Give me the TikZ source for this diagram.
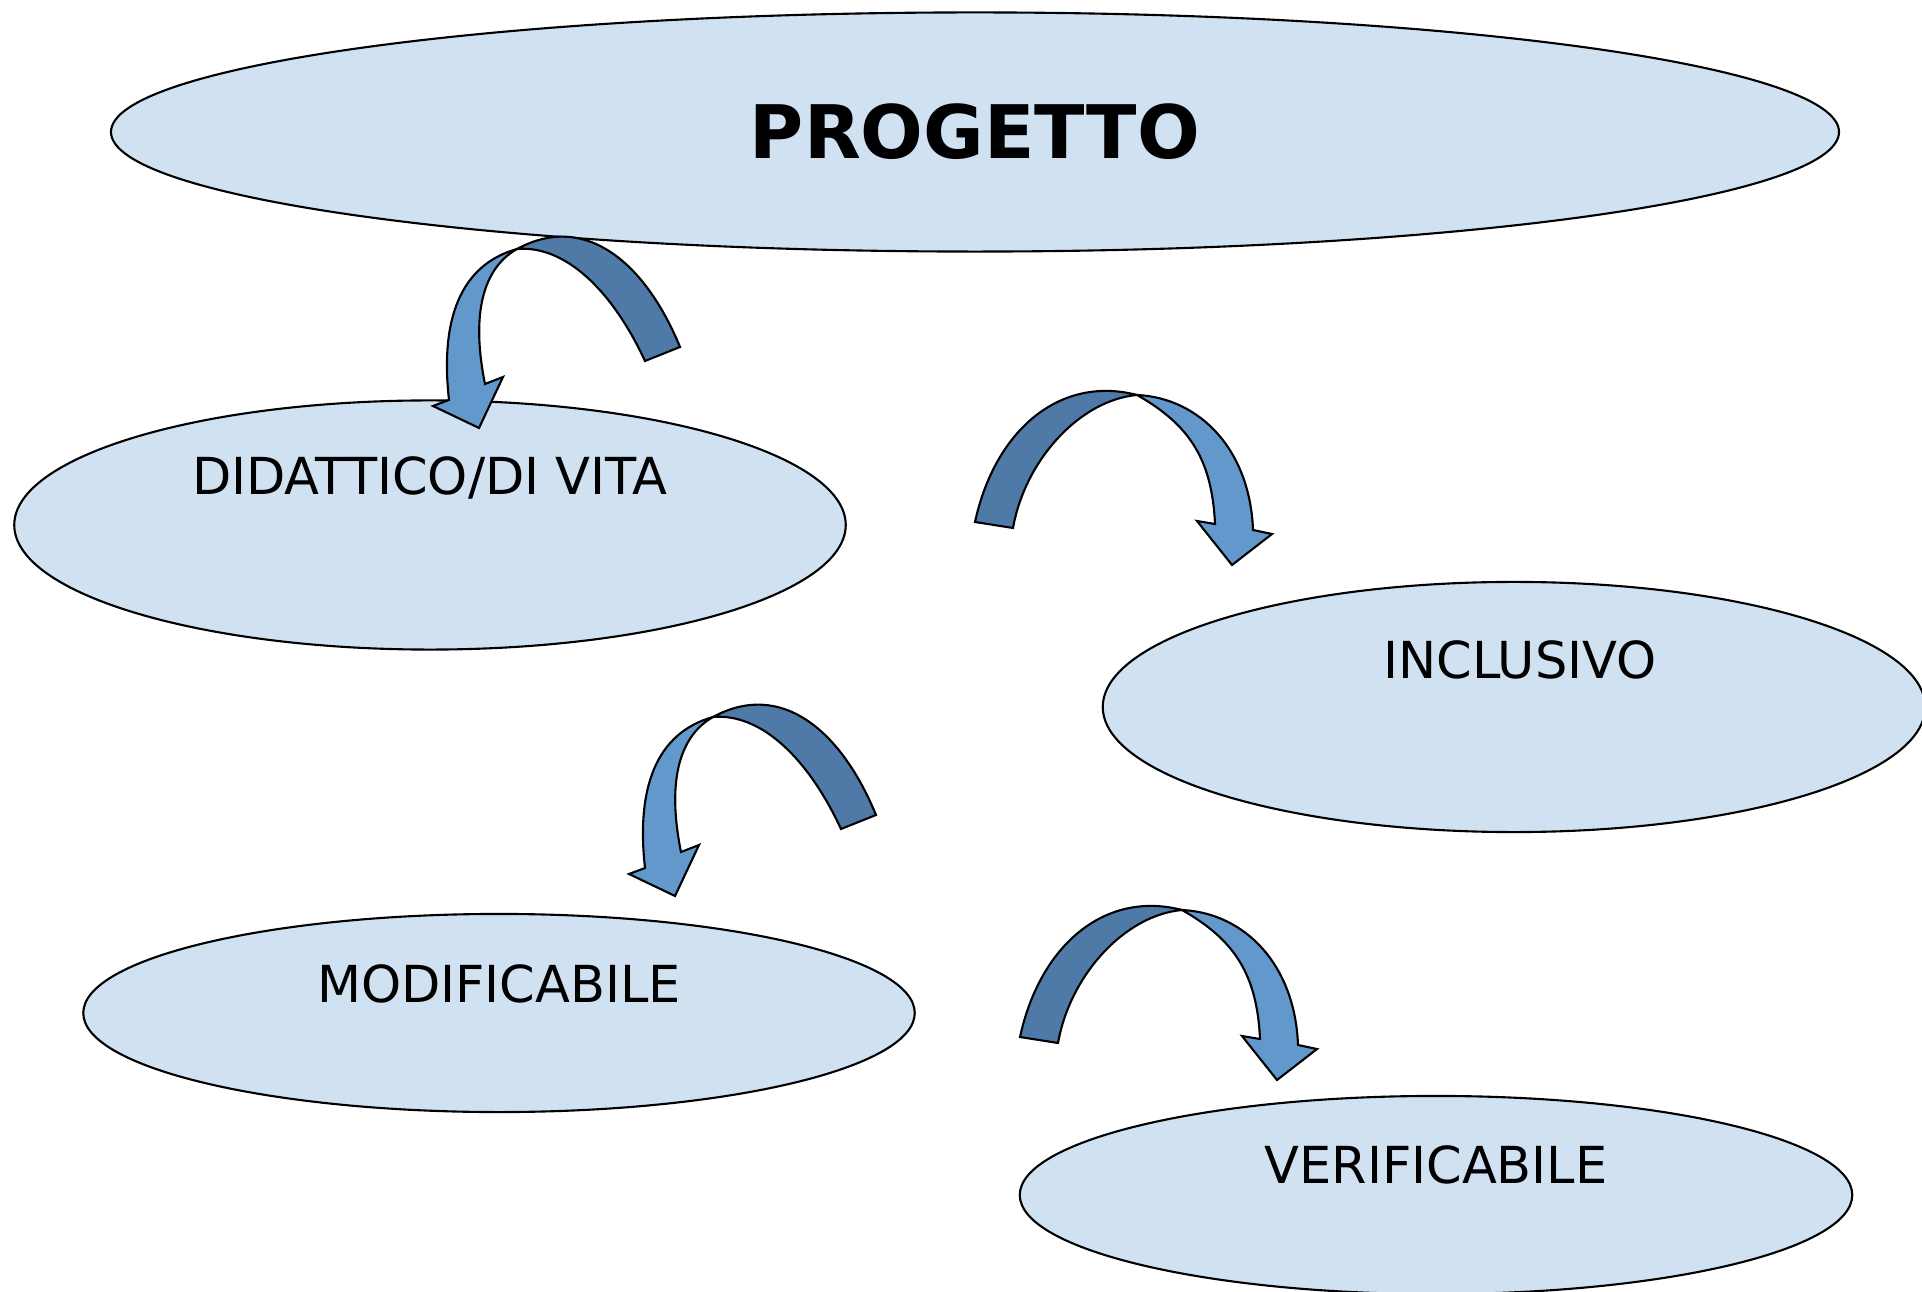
\documentclass[tikz,border=0pt]{standalone}
\usepackage{fontspec}
\setmainfont{DejaVu Sans}
\usetikzlibrary{shapes.geometric}

\definecolor{ellblue}{RGB}{208,225,242}
\definecolor{bandback}{RGB}{79,122,168}
\definecolor{bandfront}{RGB}{99,152,204}

\begin{document}
\begin{tikzpicture}[
            x=0.01cm, y=-0.01cm,
            bubble/.style={
              ellipse, draw, fill=ellblue,
              line width=0.6pt, inner sep=0pt
            },
            lbl/.style={
              font=\fontsize{14.5}{17}\selectfont,
              inner sep=0pt
            },
            back/.style={fill=bandback, draw, line width=0.6pt},
            front/.style={fill=bandfront, draw, line width=0.6pt}
        ]
    \useasboundingbox (0,0) rectangle (1922,1292);

    % the five ellipses
    \node[bubble, minimum width=17.27cm, minimum height=2.39cm,
          font=\fontsize{21}{25}\selectfont\bfseries] (progetto) at (975,132) {PROGETTO};
    \node[bubble, minimum width=8.31cm, minimum height=2.49cm] (didattico) at (430,525) {};
    \node[bubble, minimum width=8.22cm, minimum height=2.50cm] (inclusivo) at (1514,707) {};
    \node[bubble, minimum width=8.31cm, minimum height=1.98cm] (modificabile) at (499,1013) {};
    \node[bubble, minimum width=8.32cm, minimum height=1.98cm] (verificabile) at (1436,1195) {};

    \node[lbl] (didattico-t) at ([yshift=0.47cm]didattico.center) {DIDATTICO/DI VITA};
    \node[lbl] (inclusivo-t) at ([yshift=0.47cm,xshift=0.06cm]inclusivo.center) {INCLUSIVO};
    \node[lbl] (modificabile-t) at ([yshift=0.29cm]modificabile.center) {MODIFICABILE};
    \node[lbl] (verificabile-t) at ([yshift=0.30cm]verificabile.center) {VERIFICABILE};

    % arrows bending to the left
    \foreach \dx/\dy in {0/0, 196/468}
    {
      \begin{scope}[shift={(\dx,\dy)}]
        \filldraw[back] (680,347) .. controls (645,262) and (585,212) .. (517,249)
          .. controls (565,245) and (612,290) .. (645,361) -- cycle;
        \filldraw[front] (517,249) .. controls (460,265) and (440,320) .. (449,400)
          -- (433,406) -- (479,428) -- (503,377) -- (485,384)
          .. controls (472,320) and (480,270) .. (517,249) -- cycle;
      \end{scope}
    }

    % arrows bending to the right
    \foreach \dx/\dy in {0/0, 45/515}
    {
      \begin{scope}[shift={(\dx,\dy)}]
        \filldraw[back] (975,522) .. controls (995,430) and (1060,375) .. (1137,395)
          .. controls (1080,400) and (1025,460) .. (1013,528) -- cycle;
        \filldraw[front] (1137,395) .. controls (1200,398) and (1250,450) .. (1253,530)
          -- (1272,534) -- (1232,565) -- (1197,521) -- (1215,524)
          .. controls (1212,460) and (1190,425) .. (1137,395) -- cycle;
      \end{scope}
    }

    \end{tikzpicture}
\end{document}
